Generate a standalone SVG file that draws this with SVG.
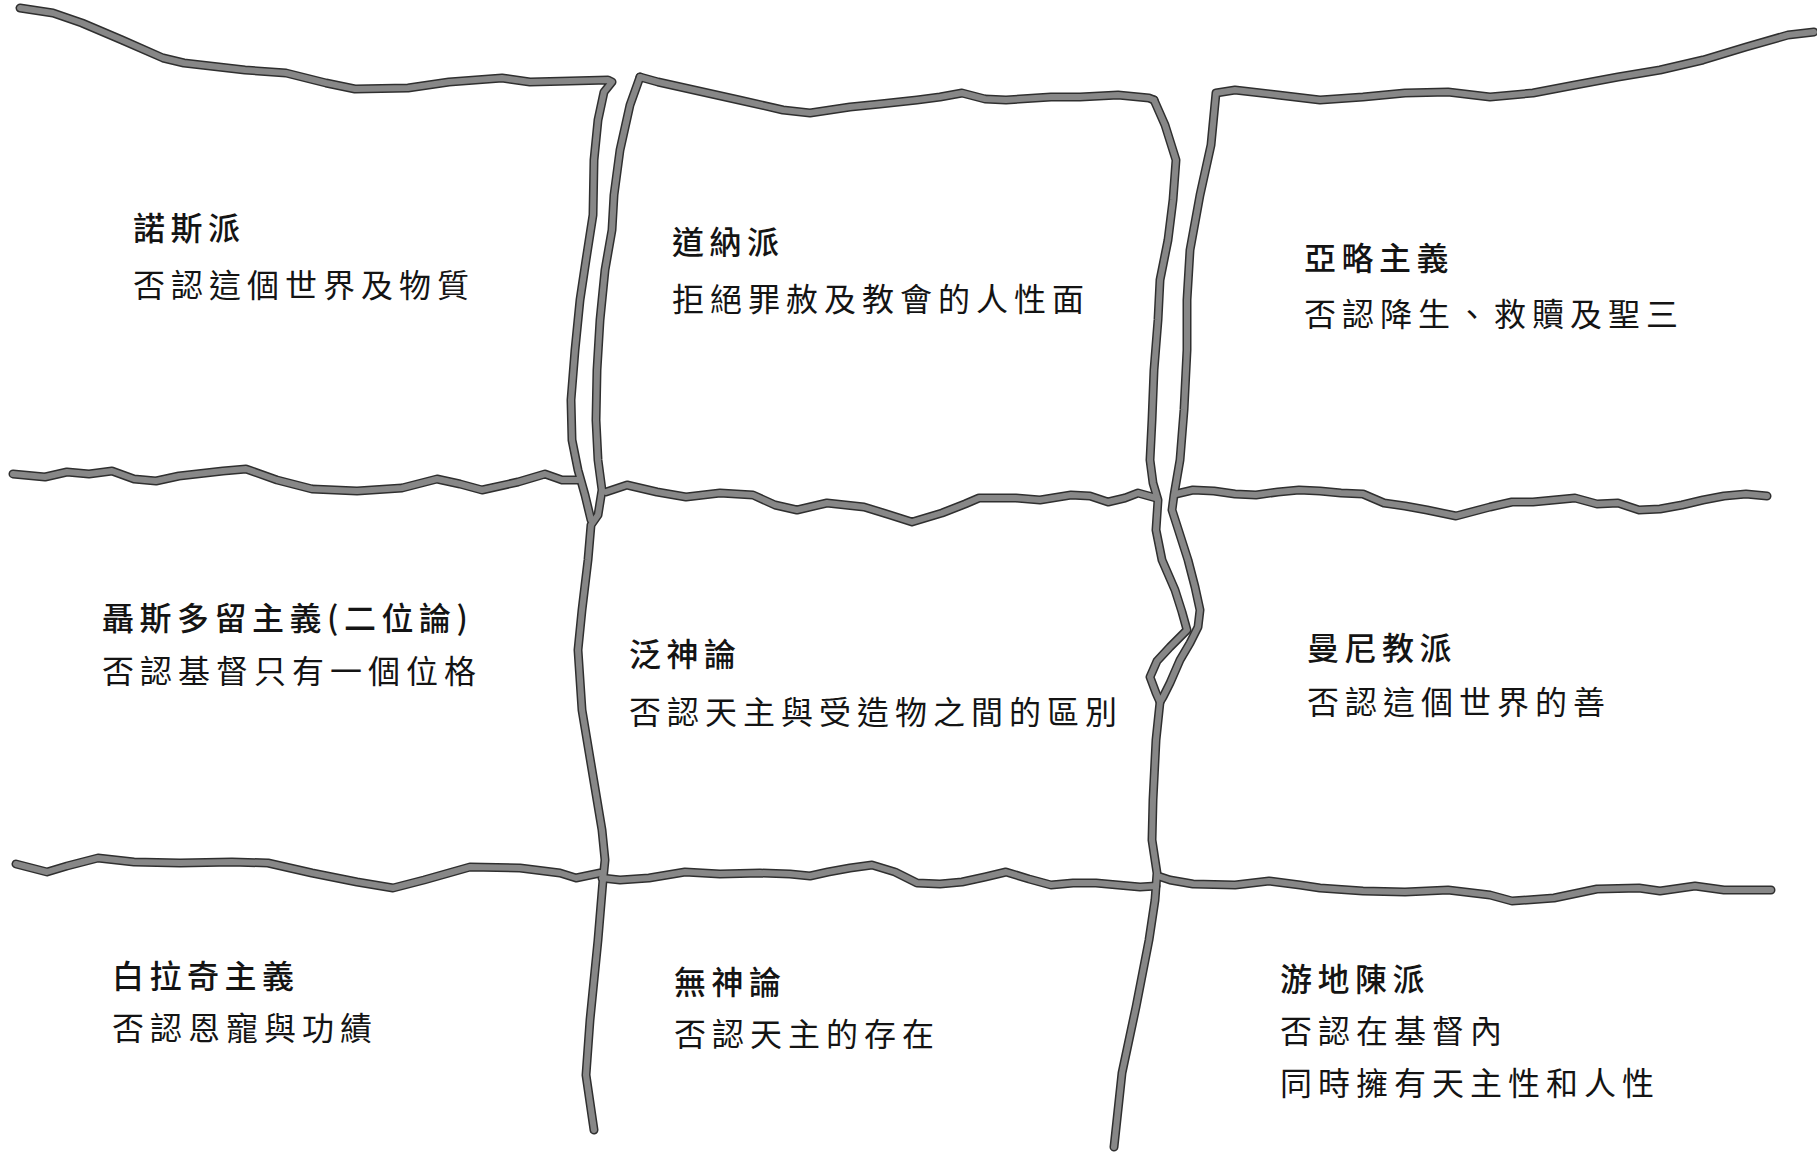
<svg xmlns="http://www.w3.org/2000/svg" xmlns:xlink="http://www.w3.org/1999/xlink" width="1817" height="1152" viewBox="0 0 1817 1152">
<style>
.bg{fill:#ffffff}
.edge{fill:none;stroke:#2f2f2f;stroke-width:9;stroke-linejoin:round;stroke-linecap:round}
.core{fill:none;stroke:#878787;stroke-width:6;stroke-linejoin:round;stroke-linecap:round}
.title{font-family:"Noto Sans CJK TC","Noto Sans CJK JP",sans-serif;font-size:32px;font-weight:500;fill:#141414;letter-spacing:5.5px}
.desc{font-family:"Noto Sans CJK TC","Noto Sans CJK JP",sans-serif;font-size:32px;font-weight:400;fill:#141414;letter-spacing:6px}
</style>
<defs>
<path id="p-top-left" d="M20,8 L53,13 L82,23 L122,40 L163,58 L184,63 L245,70 L286,73 L326,83 L355,89 L408,88 L449,82 L502,78 L530,82 L570,81 L608,80 L612,82 L604,92 L598,120 L594,160 L593,215 L586,260 L580,300 L575,350 L571,400 L572,440 L578,470 L585,495 L591,520"/>
<path id="p-left-divider" d="M640,77 L630,105 L620,150 L614,195 L612,230 L605,270 L600,320 L597,370 L596,420 L598,460 L602,490 L598,515 L591,525 L588,560 L582,610 L578,650 L582,710 L592,770 L602,830 L605,860 L603,880 L598,940 L590,1020 L586,1075 L594,1130"/>
<path id="p-top-mid" d="M640,77 L658,82 L694,90 L739,100 L783,110 L810,113 L850,107 L880,104 L917,100 L940,97 L962,93 L985,99 L1006,100 L1051,97 L1080,97 L1118,95 L1149,98 L1154,100"/>
<path id="p-right-divider" d="M1154,100 L1165,125 L1176,160 L1173,200 L1168,240 L1160,280 L1158,320 L1154,370 L1152,420 L1150,460 L1153,483 L1158,500 L1156,530 L1162,560 L1175,590 L1182,612 L1187,630 L1170,647 L1157,661 L1150,677 L1156,693 L1160,702 L1156,740 L1153,800 L1152,840 L1157,873 L1155,900 L1149,940 L1136,1007 L1122,1073 L1114,1147"/>
<path id="p-top-right" d="M1160,702 L1163,697 L1170,683 L1180,660 L1190,643 L1198,627 L1200,610 L1195,587 L1188,560 L1180,535 L1172,510 L1174,495 L1180,460 L1184,410 L1187,350 L1187,300 L1190,250 L1200,195 L1211,145 L1216,93 L1235,90 L1278,95 L1320,100 L1363,97 L1405,93 L1448,92 L1490,97 L1533,93 L1575,85 L1618,77 L1660,70 L1703,60 L1746,47 L1788,35 L1814,32"/>
<path id="p-row1-left" d="M13,474 L45,477 L67,472 L89,474 L112,471 L134,479 L156,481 L179,476 L223,471 L246,469 L277,480 L312,489 L357,491 L402,488 L437,479 L460,484 L482,490 L518,482 L545,474 L562,480 L578,480"/>
<path id="p-row1-mid" d="M606,492 L627,485 L657,492 L686,497 L720,493 L753,495 L775,505 L797,510 L827,503 L864,507 L890,515 L912,522 L942,513 L965,504 L979,498 L1016,498 L1040,500 L1071,495 L1090,496 L1108,502 L1125,498 L1138,493 L1156,498"/>
<path id="p-row1-right" d="M1176,494 L1193,490 L1214,491 L1235,494 L1256,495 L1278,492 L1299,490 L1320,491 L1341,493 L1363,494 L1384,503 L1405,506 L1427,510 L1456,516 L1490,507 L1512,502 L1533,502 L1554,500 L1575,498 L1597,504 L1618,503 L1639,510 L1660,509 L1682,505 L1703,500 L1724,496 L1746,494 L1767,496"/>
<path id="p-row2-left" d="M16,864 L47,872 L67,866 L98,858 L134,862 L180,863 L232,862 L268,863 L312,873 L357,882 L393,888 L424,880 L470,867 L520,868 L560,873 L576,878 L600,873"/>
<path id="p-row2-mid" d="M602,878 L620,880 L649,878 L685,872 L720,874 L760,873 L790,874 L810,876 L828,872 L850,868 L872,865 L895,872 L917,883 L940,884 L962,882 L985,877 L1006,872 L1029,879 L1051,885 L1073,883 L1096,883 L1118,885 L1140,887 L1156,886"/>
<path id="p-row2-right" d="M1158,876 L1170,880 L1193,884 L1235,885 L1269,881 L1300,885 L1320,888 L1363,891 L1405,892 L1448,890 L1490,895 L1512,901 L1554,898 L1597,889 L1639,888 L1660,891 L1695,886 L1724,890 L1771,890"/>
</defs>
<rect class="bg" x="0" y="0" width="1817" height="1152"/>
<g id="connectors">
<use class="edge" xlink:href="#p-top-left"/>
<use class="edge" xlink:href="#p-left-divider"/>
<use class="edge" xlink:href="#p-top-mid"/>
<use class="edge" xlink:href="#p-right-divider"/>
<use class="edge" xlink:href="#p-top-right"/>
<use class="edge" xlink:href="#p-row1-left"/>
<use class="edge" xlink:href="#p-row1-mid"/>
<use class="edge" xlink:href="#p-row1-right"/>
<use class="edge" xlink:href="#p-row2-left"/>
<use class="edge" xlink:href="#p-row2-mid"/>
<use class="edge" xlink:href="#p-row2-right"/>
<use class="core" xlink:href="#p-top-left"/>
<use class="core" xlink:href="#p-left-divider"/>
<use class="core" xlink:href="#p-top-mid"/>
<use class="core" xlink:href="#p-right-divider"/>
<use class="core" xlink:href="#p-top-right"/>
<use class="core" xlink:href="#p-row1-left"/>
<use class="core" xlink:href="#p-row1-mid"/>
<use class="core" xlink:href="#p-row1-right"/>
<use class="core" xlink:href="#p-row2-left"/>
<use class="core" xlink:href="#p-row2-mid"/>
<use class="core" xlink:href="#p-row2-right"/>
</g>
<g id="gnosticism">
<text class="title" x="133" y="240">諾斯派</text>
<text class="desc" x="133" y="297">否認這個世界及物質</text>
</g>
<g id="donatism">
<text class="title" x="672" y="254">道納派</text>
<text class="desc" x="672" y="311">拒絕罪赦及教會的人性面</text>
</g>
<g id="arianism">
<text class="title" x="1304" y="270">亞略主義</text>
<text class="desc" x="1304" y="326">否認降生、救贖及聖三</text>
</g>
<g id="nestorianism">
<text class="title" x="102" y="630">聶斯多留主義(二位論)</text>
<text class="desc" x="102" y="683">否認基督只有一個位格</text>
</g>
<g id="pantheism">
<text class="title" x="629" y="666">泛神論</text>
<text class="desc" x="629" y="724">否認天主與受造物之間的區別</text>
</g>
<g id="manichaeism">
<text class="title" x="1307" y="660">曼尼教派</text>
<text class="desc" x="1307" y="714">否認這個世界的善</text>
</g>
<g id="pelagianism">
<text class="title" x="112" y="988">白拉奇主義</text>
<text class="desc" x="112" y="1040">否認恩寵與功績</text>
</g>
<g id="atheism">
<text class="title" x="674" y="994">無神論</text>
<text class="desc" x="674" y="1046">否認天主的存在</text>
</g>
<g id="eutychianism">
<text class="title" x="1280" y="991">游地陳派</text>
<text class="desc" x="1280" y="1043">否認在基督內</text>
<text class="desc" x="1280" y="1095">同時擁有天主性和人性</text>
</g>
</svg>
